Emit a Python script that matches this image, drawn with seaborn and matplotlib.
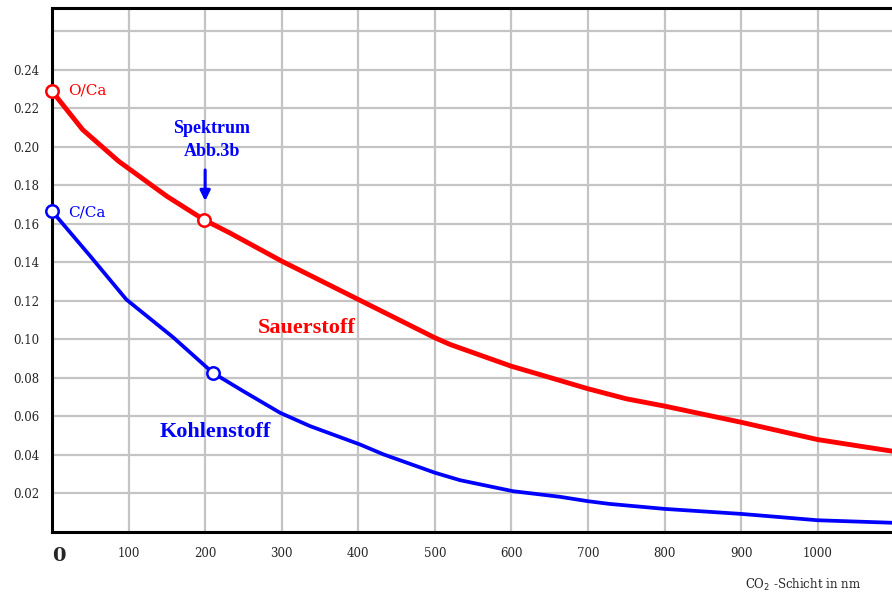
import numpy as np
import pandas as pd
import matplotlib
matplotlib.use("Agg")
import matplotlib.pyplot as plt
import seaborn as sns

# Data
o_x = [0, 40, 87, 150, 198, 232, 300, 400, 500, 520, 600, 637, 700, 750, 800, 900, 1000, 1097]
o_y = [0.229, 0.209, 0.1926, 0.1744, 0.1623, 0.1554, 0.1407, 0.1208, 0.1009, 0.0974, 0.0861, 0.0818,
       0.0744, 0.0692, 0.0654, 0.057, 0.048, 0.042]
c_x = [0, 50, 97, 158, 210, 250, 298, 337, 402, 433, 500, 533, 602, 663, 700, 728, 800, 900, 1000, 1097]
c_y = [0.1667, 0.1433, 0.1208, 0.1012, 0.0827, 0.0731, 0.0619, 0.055, 0.0455, 0.0403, 0.0308, 0.0269,
       0.0212, 0.0183, 0.016, 0.0146, 0.012, 0.0094, 0.0061, 0.0048]
o_marks_x = [0, 199]
o_marks_y = [0.229, 0.1623]
c_marks_x = [0, 210]
c_marks_y = [0.1667, 0.0827]
x_ticks = [0, 100, 200, 300, 400, 500, 600, 700, 800, 900, 1000]
y_ticks = [0.02, 0.04, 0.06, 0.08, 0.10, 0.12, 0.14, 0.16, 0.18, 0.20, 0.22, 0.24, 0.26]
y_labels = ["0.02", "0.04", "0.06", "0.08", "0.10", "0.12", "0.14", "0.16", "0.18", "0.20", "0.22", "0.24", ""]

RED = "#ff0000"
BLUE = "#0000ff"

sns.set_style("white")
plt.rcParams["font.family"] = ["DejaVu Serif"]

df = pd.concat([
    pd.DataFrame({"x": o_x, "y": o_y, "s": "O/Ca"}),
    pd.DataFrame({"x": c_x, "y": c_y, "s": "C/Ca"}),
])

fig = plt.figure(figsize=(8.92, 5.97), dpi=100)
ax = fig.add_axes([52 / 892, 1 - 532 / 597, 840 / 892, (532 - 8) / 597])

ax.grid(True, color="#c4c4c4", linewidth=1.6)
ax.set_axisbelow(True)

sns.lineplot(data=df[df.s == "O/Ca"], x="x", y="y", color=RED, linewidth=3.5, ax=ax,
             sort=False, estimator=None, legend=False)
sns.lineplot(data=df[df.s == "C/Ca"], x="x", y="y", color=BLUE, linewidth=2.7, ax=ax,
             sort=False, estimator=None, legend=False)

sns.scatterplot(x=o_marks_x, y=o_marks_y, s=80, facecolor="white", edgecolor=RED,
                linewidth=1.8, ax=ax, zorder=5, clip_on=False)
sns.scatterplot(x=c_marks_x, y=c_marks_y, s=80, facecolor="white", edgecolor=BLUE,
                linewidth=1.8, ax=ax, zorder=5, clip_on=False)

ax.set_xlim(0, 1097)
ax.set_ylim(0, 0.2722)
ax.set_xticks(x_ticks)
ax.set_xticklabels([str(v) for v in x_ticks])
ax.set_yticks(y_ticks)
ax.set_yticklabels(y_labels)

ax.tick_params(axis="y", direction="in", length=9, width=1.8, pad=9, labelsize=8.5, color="black")
ax.tick_params(axis="x", direction="in", length=9, width=1.8, pad=11, labelsize=8.5, color="black")
xl = ax.get_xticklabels()
xl[0].set_fontsize(14)
xl[0].set_fontweight("bold")
xl[0].set_horizontalalignment("left")

for side in ["left", "bottom", "top"]:
    ax.spines[side].set_visible(True)
    ax.spines[side].set_color("black")
    ax.spines[side].set_linewidth(2.2)
ax.spines["right"].set_visible(False)

ax.set_xlabel("")
ax.set_ylabel("")

ax.text(21, 0.2293, "O/Ca", color=RED, fontsize=11, va="center", ha="left")
ax.text(21, 0.1660, "C/Ca", color=BLUE, fontsize=11, va="center", ha="left")
ax.text(209, 0.2035, "Spektrum\nAbb.3b", color=BLUE, fontsize=13, fontweight="bold",
        ha="center", va="center", family="Liberation Serif", linespacing=1.45)
ax.annotate("", xy=(200, 0.1705), xytext=(200, 0.1895),
            arrowprops=dict(arrowstyle="-|>", color=BLUE, lw=2.2, mutation_scale=15))
ax.text(269, 0.1062, "Sauerstoff", color=RED, fontsize=16, fontweight="bold",
        family="Liberation Serif", ha="left", va="center")
ax.text(141, 0.0522, "Kohlenstoff", color=BLUE, fontsize=16, fontweight="bold",
        family="Liberation Serif", ha="left", va="center")

fig.text(745 / 892, 1 - 585 / 597, "CO$_2$ -Schicht in nm", fontsize=8.5, ha="left", va="center")

fig.savefig("out.png", dpi=100)
